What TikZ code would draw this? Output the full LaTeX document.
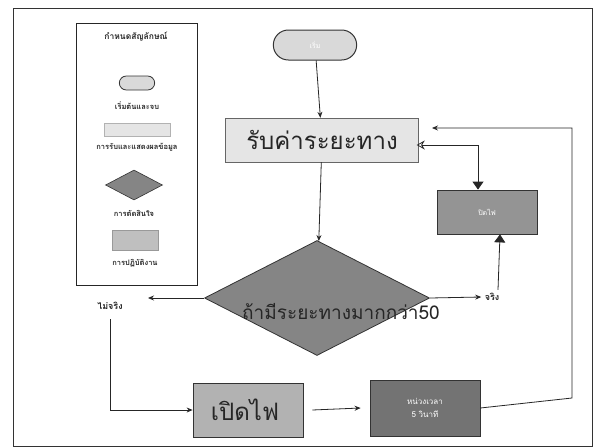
\documentclass[tikz,border=0pt]{standalone}
\usepackage{fontspec}
\newfontfamily\thaifont[Script=Thai]{Loma}
\usetikzlibrary{shapes.geometric,shapes.misc,arrows.meta}
\tikzset{
  conn/.style={draw=black!85, line width=0.8pt, -{Stealth[length=6pt,width=5pt]}},
  bigtip/.style={-{Triangle[length=8pt,width=11pt]}},
  legtext/.style={font=\thaifont\fontsize{7.5}{8}\selectfont\bfseries, text=black!85},
  term/.style={draw=black!80, line width=1pt, rounded rectangle, fill=black!15},
  iobox/.style={draw=black!60, trapezium, trapezium left angle=75, trapezium right angle=105, trapezium stretches body, fill=black!10, inner sep=0pt},
  decis/.style={draw=black!80, line width=0.8pt, diamond, fill=black!48, inner sep=0pt},
  procbox/.style={draw=black!80, line width=0.8pt, rectangle, fill=black!38, inner sep=0pt},
  lbl/.style={font=\thaifont\fontsize{9}{10}\selectfont\bfseries, text=black!85},
}
\begin{document}
\begin{tikzpicture}[x=1pt,y=-1pt]
\useasboundingbox (0,0) rectangle (599,447);
\fill[white] (0,0) rectangle (599,447);
\draw[black!80, line width=0.8pt] (13,8) rectangle (592,446);
% legend
\node[draw=black!85, line width=0.8pt, minimum width=121pt, minimum height=262pt, inner sep=0pt] (legend) at (136.5,154) {};
\node[legtext, font=\thaifont\fontsize{8.5}{9}\selectfont\bfseries] (lt) at (136,37) {กำหนดสัญลักษณ์};
\node[term, minimum width=42pt, minimum height=14pt, line width=0.8pt] (lterm) at (137,83) {};
\node[legtext] (lterml) at (137,106) {เริ่มต้นและจบ};
\node[iobox, minimum width=66pt, minimum height=13pt, trapezium left angle=65, trapezium right angle=115, draw=black!30] (lio) at (137,130) {};
\node[legtext] (liol) at (137,147) {การรับและแสดงผลข้อมูล};
\node[decis, minimum width=57pt, minimum height=30pt, aspect=1.9, line width=0.6pt] (ldec) at (134,185) {};
\node[legtext] (ldecl) at (134,213) {การตัดสินใจ};
\node[procbox, minimum width=46pt, minimum height=20pt, fill=black!25, draw=black!40, line width=0.5pt] (lproc) at (135,240) {};
\node[legtext] (lprocl) at (135,263) {การปฏิบัติงาน};
% flowchart
\node[term, minimum width=90pt, minimum height=30pt] (start) at (315,45) {\thaifont\fontsize{7}{8}\selectfont\color{white}เริ่ม};
\node[iobox, minimum width=193pt, minimum height=44pt] (input) at (322,140) {};
\node[font=\thaifont\fontsize{24}{26}\selectfont, text=black!85] (inputt) at (322,140) {รับค่าระยะทาง};
\node[decis, minimum width=225pt, minimum height=115pt, aspect=1.95] (dec) at (317,298) {};
\node[font=\thaifont\fontsize{19}{21}\selectfont, text=black!85] (dect) at (341,311) {ถ้ามีระยะทางมากกว่า50};
\node[procbox, minimum width=100pt, minimum height=44pt, fill=black!42] (off) at (487,212) {\thaifont\fontsize{7}{8}\selectfont\color{white}ปิดไฟ};
\node[lbl] (yes) at (492,297) {จริง};
\node[lbl] (no) at (110,306) {ไม่จริง};
\node[procbox, minimum width=110pt, minimum height=54pt, fill=black!30] (on) at (248,410) {};
\node[font=\thaifont\fontsize{24}{26}\selectfont, text=black!85] (ont) at (245,410) {เปิดไฟ};
\node[procbox, minimum width=110pt, minimum height=56pt, fill=black!55, align=center, font=\thaifont\fontsize{8}{13}\selectfont, text=white] (delay) at (425,408) {หน่วงเวลา\\5 วินาที};
% connectors
\draw[conn] (dec.west) -- (148,298) coordinate (noarr);
\draw[conn] (start) -- (input);
\draw[conn] (input) -- (dec);
\draw[conn] (dec.east) -- (yes.west);
\draw[draw=black!85, line width=0.8pt, bigtip] ([xshift=6pt]yes.north) -- ([xshift=13pt]off.south);
\draw[conn] ([yshift=-6pt]no.south) |- (on.west);
\draw[conn] (on.east) ++(9,0) coordinate (onr) -- ([xshift=-9pt]delay.west);
\draw[draw=black!85, line width=0.8pt, {Stealth[length=8pt,width=9pt,open]}-{Triangle[length=8pt,width=11pt]}] (input.east) ++(-2,5) coordinate (inr) -- (478,145) -- (off.north -| 478,0);
\draw[conn] (delay.east) -- (572,398) -- (572,128) -- (432,128);
\end{tikzpicture}
\end{document}
